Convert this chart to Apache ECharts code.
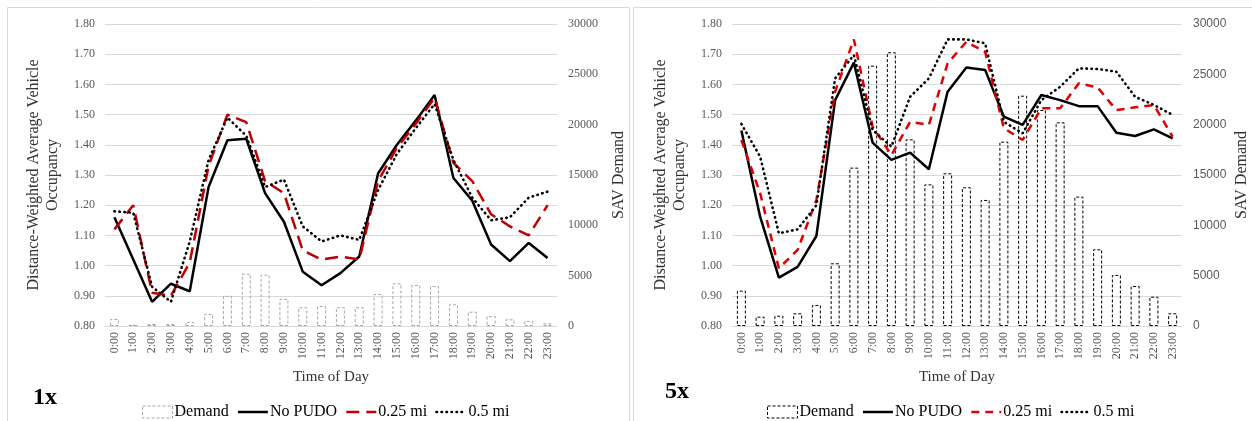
<!DOCTYPE html>
<html>
<head>
<meta charset="utf-8">
<script src="https://cdn.jsdelivr.net/npm/echarts@6/dist/echarts.min.js"></script>
<style>
  html, body { margin: 0; padding: 0; background: #fff; }
  #chart { width: 1252px; height: 421px; }
</style>
</head>
<body>
<div id="chart"></div>
<script>
// time of day categories
const hours = ['0:00','1:00','2:00','3:00','4:00','5:00','6:00','7:00','8:00','9:00','10:00','11:00',
  '12:00','13:00','14:00','15:00','16:00','17:00','18:00','19:00','20:00','21:00','22:00','23:00'];

// 1x panel
const demand1x = [700,130,200,200,400,1200,3000,5200,5100,2700,1860,1990,1860,1860,3180,4240,4070,3970,2150,1420,990,665,500,265];
const noPudo1x = [1.16,1.02,0.88,0.94,0.915,1.26,1.415,1.42,1.24,1.145,0.98,0.935,0.975,1.03,1.305,1.40,1.48,1.565,1.29,1.215,1.07,1.015,1.075,1.025];
const mi025_1x = [1.12,1.20,0.91,0.90,1.01,1.33,1.50,1.475,1.28,1.24,1.05,1.02,1.03,1.02,1.28,1.39,1.47,1.555,1.34,1.28,1.17,1.13,1.10,1.20];
const mi05_1x  = [1.18,1.175,0.93,0.88,1.08,1.35,1.49,1.43,1.26,1.285,1.13,1.08,1.10,1.085,1.25,1.37,1.455,1.535,1.35,1.225,1.15,1.16,1.225,1.245];

// 5x panel
const demand5x = [3510,925,1020,1260,2090,6230,15730,25860,27190,18540,14070,15170,13780,12520,18310,22880,21460,20230,12850,7620,5070,3970,2910,1260];
const noPudo5x = [1.447,1.162,0.96,0.996,1.098,1.548,1.672,1.407,1.35,1.374,1.319,1.576,1.656,1.648,1.493,1.466,1.565,1.548,1.528,1.528,1.44,1.429,1.451,1.421];
const mi025_5x = [1.416,1.24,0.991,1.052,1.217,1.576,1.749,1.46,1.366,1.476,1.466,1.67,1.741,1.708,1.455,1.416,1.521,1.521,1.604,1.59,1.515,1.524,1.532,1.427];
const mi05_5x  = [1.469,1.361,1.107,1.12,1.20,1.62,1.697,1.449,1.394,1.559,1.62,1.749,1.749,1.736,1.476,1.438,1.548,1.592,1.653,1.651,1.642,1.559,1.532,1.499];

const serif = '"Liberation Serif", "DejaVu Serif", serif';
const gridColor = '#d9d9d9';
const labelColor = '#595959';

const chart = echarts.init(document.getElementById('chart'));

const makeX = (gridIndex) => ({
  type: 'category',
  gridIndex: gridIndex,
  data: hours,
  boundaryGap: true,
  name: 'Time of Day',
  nameLocation: 'middle',
  nameGap: 44,
  nameTextStyle: { fontFamily: serif, fontSize: 15, color: '#333' },
  axisLine: { lineStyle: { color: gridColor } },
  axisTick: { show: false },
  axisLabel: { interval: 0, rotate: 90, fontFamily: serif, fontSize: 12, color: labelColor, margin: 6 }
});

const makeYLeft = (gridIndex) => ({
  type: 'value',
  gridIndex: gridIndex,
  min: 0.8, max: 1.8, interval: 0.1,
  name: 'Distance-Weighted Average Vehicle\nOccupancy',
  nameLocation: 'middle',
  nameGap: 43,
  nameTextStyle: { fontFamily: serif, fontSize: 16, color: '#333', lineHeight: 19 },
  axisLine: { show: false },
  axisTick: { show: false },
  splitLine: { lineStyle: { color: gridColor, width: 1 } },
  axisLabel: { fontFamily: serif, fontSize: 12, color: labelColor, margin: 10,
    formatter: (v) => v.toFixed(2) }
});

const makeYRight = (gridIndex, labelFont, gap) => ({
  type: 'value',
  gridIndex: gridIndex,
  position: 'right',
  min: 0, max: 30000, interval: 5000,
  name: 'SAV Demand',
  nameLocation: 'middle',
  nameGap: gap,
  nameRotate: 90,
  nameTextStyle: { fontFamily: serif, fontSize: 16, color: '#333' },
  axisLine: { show: false },
  axisTick: { show: false },
  splitLine: { show: false },
  axisLabel: { fontFamily: labelFont, fontSize: 12, color: labelColor, margin: 11,
    formatter: (v) => String(v) }
});

const lineSeries = (name, data, xi, yi, style) => ({
  name: name,
  type: 'line',
  xAxisIndex: xi,
  yAxisIndex: yi,
  data: data,
  symbol: 'none',
  z: 3,
  lineStyle: style,
  itemStyle: { color: style.color }
});

const barSeries = (data, xi, yi, color) => ({
  name: 'Demand',
  type: 'bar',
  xAxisIndex: xi,
  yAxisIndex: yi,
  data: data,
  barWidth: 9,
  z: 1,
  itemStyle: { color: 'rgba(255,255,255,0)', borderColor: color, borderWidth: 1, borderType: [3, 2] }
});

const solid = { color: '#000', width: 2.5, type: 'solid' };
const redDash1 = { color: '#c00000', width: 2.5, type: [13, 7] };
const redDash5 = { color: '#e00000', width: 2.5, type: [8, 6] };
const dotted = { color: '#000', width: 2.6, type: [0.5, 4.5], cap: 'round' };

// hide the circle ECharts puts on line legend icons
const noDot = { opacity: 0 };

const legendItems = (barColor, redStyle) => [
  { name: 'Demand', icon: 'rect',
    itemStyle: { color: 'rgba(255,255,255,0)', borderColor: barColor, borderWidth: 1, borderType: [3, 2] } },
  { name: 'No PUDO', itemStyle: noDot, lineStyle: solid },
  { name: '0.25 mi', itemStyle: noDot, lineStyle: redStyle },
  { name: '0.5 mi', itemStyle: noDot, lineStyle: dotted }
];

const legendBase = {
  orient: 'horizontal',
  itemWidth: 30,
  itemHeight: 12,
  itemGap: 8,
  textStyle: { fontFamily: serif, fontSize: 16, color: '#000', padding: [0, 0, 0, -3] }
};

chart.setOption({
  animation: false,
  backgroundColor: '#fff',
  grid: [
    { left: 105, top: 24, width: 452, height: 302 },
    { left: 732, top: 24, width: 450, height: 302 }
  ],
  xAxis: [makeX(0), makeX(1)],
  yAxis: [makeYLeft(0), makeYRight(0, serif, 54), makeYLeft(1),
    makeYRight(1, '"Liberation Sans", Arial, sans-serif', 52)],
  legend: [
    Object.assign({}, legendBase, { left: 137, top: 399, data: legendItems('#a6a6a6', redDash1) }),
    Object.assign({}, legendBase, { left: 762, top: 399, data: legendItems('#000', redDash5) })
  ],
  graphic: [
    { type: 'rect', shape: { x: 7.5, y: 7.5, width: 622, height: 440 }, style: { fill: 'none', stroke: gridColor, lineWidth: 1 }, silent: true },
    { type: 'rect', shape: { x: 633.5, y: 7.5, width: 640, height: 440 }, style: { fill: 'none', stroke: gridColor, lineWidth: 1 }, silent: true },
    { type: 'text', left: 33, top: 386, style: { text: '1x', font: 'bold 24px ' + serif, fill: '#000' } },
    { type: 'text', left: 665, top: 380, style: { text: '5x', font: 'bold 24px ' + serif, fill: '#000' } }
  ],
  series: [
    barSeries(demand1x, 0, 1, '#a6a6a6'),
    lineSeries('No PUDO', noPudo1x, 0, 0, solid),
    lineSeries('0.25 mi', mi025_1x, 0, 0, redDash1),
    lineSeries('0.5 mi', mi05_1x, 0, 0, dotted),
    barSeries(demand5x, 1, 3, '#000'),
    lineSeries('No PUDO', noPudo5x, 1, 2, solid),
    lineSeries('0.25 mi', mi025_5x, 1, 2, redDash5),
    lineSeries('0.5 mi', mi05_5x, 1, 2, dotted)
  ]
});

window.addEventListener('resize', () => chart.resize());
</script>
</body>
</html>
